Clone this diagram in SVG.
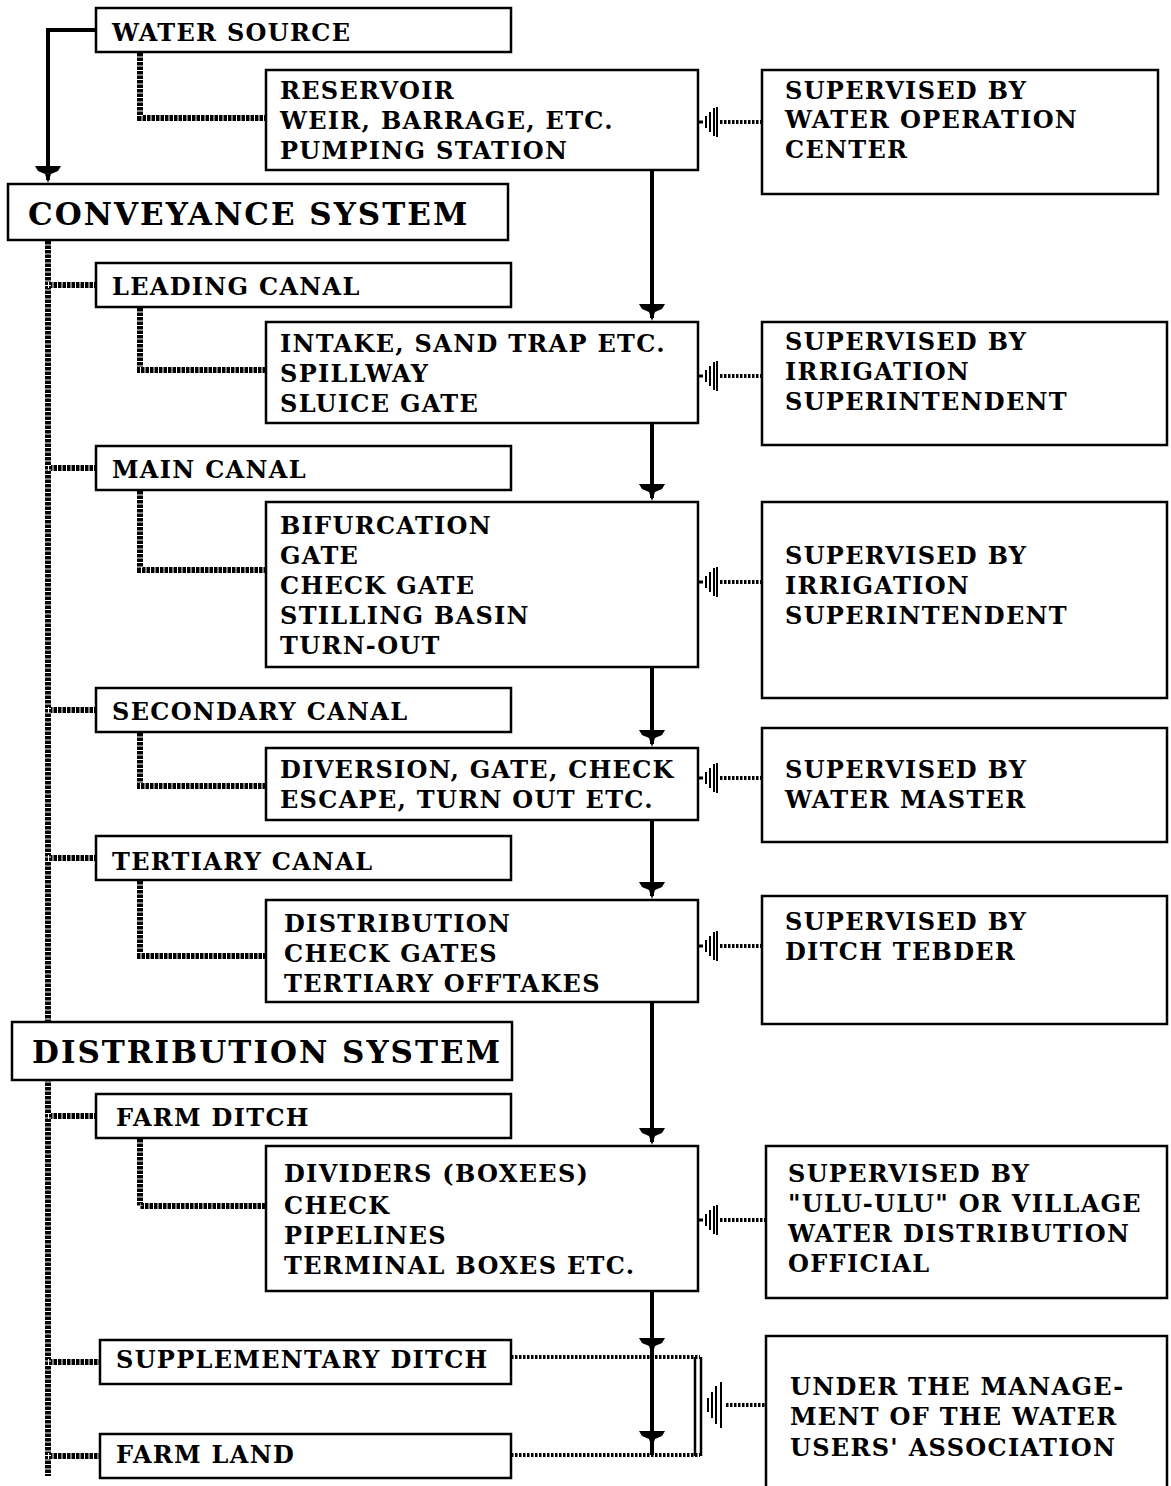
<svg xmlns="http://www.w3.org/2000/svg" width="1171" height="1486" viewBox="0 0 1171 1486">
  <style>
    .box { fill: #fff; stroke: #000; stroke-width: 2.5; }
    .t { font-family: "DejaVu Serif", "Liberation Serif", serif; font-weight: bold; font-size: 24px; fill: #000; letter-spacing: 1.3px; }
    .h { font-family: "DejaVu Serif", "Liberation Serif", serif; font-weight: bold; font-size: 31px; fill: #000; letter-spacing: 2px; }
    .solid { fill: none; stroke: #000; stroke-width: 4; }
    /* rope-like line: black core broken by thin white ticks */
    .rope { fill: none; stroke: #000; stroke-width: 6; }
    .rope-tick { fill: none; stroke: #fff; stroke-width: 6; stroke-dasharray: 1 3.5; }
    .dots { fill: none; stroke: #000; stroke-width: 4; stroke-dasharray: 2.5 1.5; }
  </style>
  <defs>
    <!-- flow arrowhead: triangle pointing down with a cross bar, tip at (0,0) -->
    <symbol id="arrow" overflow="visible">
      <path d="M-13,-17 L13,-17 L10,-12 L3,-9 L0,0 L-3,-9 L-10,-12 Z" fill="#000"/>
    </symbol>
    <!-- supervision link: stepped bars starting at (0,0) -->
    <symbol id="link" overflow="visible">
      <path d="M0,0 H5" stroke="#000" stroke-width="3"/>
      <path d="M8,-6 V6 M12,-10 V10 M16,-14 V14 M19,-15 V15" stroke="#000" stroke-width="2"/>
    </symbol>
    <!-- rope paths, each drawn twice (core and ticks) -->
    <path id="r0" d="M48,240 V1476"/>
    <path id="r1" d="M48,285 H96"/>
    <path id="r2" d="M48,468 H96"/>
    <path id="r3" d="M48,710 H96"/>
    <path id="r4" d="M48,858 H96"/>
    <path id="r5" d="M48,1116 H96"/>
    <path id="r6" d="M48,1362 H100"/>
    <path id="r7" d="M48,1456 H100"/>
    <path id="s1" d="M140,52 V118 H266"/>
    <path id="s2" d="M140,307 V370 H266"/>
    <path id="s3" d="M140,490 V570 H266"/>
    <path id="s4" d="M140,732 V786 H266"/>
    <path id="s5" d="M140,880 V956 H266"/>
    <path id="s6" d="M140,1138 V1206 H266"/>
  </defs>

  <g id="connectors">
    <!-- source down to conveyance system -->
    <path class="solid" d="M96,30 H48 V180"/>
    <use href="#arrow" x="48" y="183"/>

    <!-- main flow line -->
    <path class="solid" d="M652,170 V318"/>
    <use href="#arrow" x="652" y="321"/>
    <path class="solid" d="M652,423 V498"/>
    <use href="#arrow" x="652" y="501"/>
    <path class="solid" d="M652,667 V744"/>
    <use href="#arrow" x="652" y="747"/>
    <path class="solid" d="M652,820 V896"/>
    <use href="#arrow" x="652" y="899"/>
    <path class="solid" d="M652,1002 V1142"/>
    <use href="#arrow" x="652" y="1145"/>
    <path class="solid" d="M652,1291 V1455"/>
    <use href="#arrow" x="652" y="1355"/>
    <use href="#arrow" x="652" y="1448"/>

    <!-- left trunk, branches and canal-to-structure links -->
    <g class="rope">
      <use href="#r0"/><use href="#r1"/><use href="#r2"/><use href="#r3"/>
      <use href="#r4"/><use href="#r5"/><use href="#r6"/><use href="#r7"/>
      <use href="#s1"/><use href="#s2"/><use href="#s3"/>
      <use href="#s4"/><use href="#s5"/><use href="#s6"/>
    </g>
    <g class="rope-tick">
      <use href="#r0"/><use href="#r1"/><use href="#r2"/><use href="#r3"/>
      <use href="#r4"/><use href="#r5"/><use href="#r6"/><use href="#r7"/>
      <use href="#s1"/><use href="#s2"/><use href="#s3"/>
      <use href="#s4"/><use href="#s5"/><use href="#s6"/>
    </g>

    <!-- structures to supervision -->
    <use href="#link" x="698" y="122"/>
    <path class="dots" d="M720,122 H762"/>
    <use href="#link" x="698" y="376"/>
    <path class="dots" d="M720,376 H762"/>
    <use href="#link" x="698" y="582"/>
    <path class="dots" d="M720,582 H762"/>
    <use href="#link" x="698" y="778"/>
    <path class="dots" d="M720,778 H762"/>
    <use href="#link" x="698" y="946"/>
    <path class="dots" d="M720,946 H762"/>
    <use href="#link" x="698" y="1220"/>
    <path class="dots" d="M720,1220 H766"/>

    <!-- farm level bracket -->
    <path class="dots" d="M511,1357 H700"/>
    <path class="dots" d="M511,1455 H700"/>
    <path d="M695,1357 V1456 M701,1357 V1456" stroke="#000" stroke-width="2.5" fill="none"/>
    <path d="M708,1398 V1412 M712,1392 V1418 M716,1386 V1424 M721,1382 V1428" stroke="#000" stroke-width="2" fill="none"/>
    <path class="dots" d="M726,1405 H766"/>
  </g>

  <g id="water-source">
    <rect class="box" x="96" y="8" width="415" height="44"/>
    <text class="t" x="112" y="41">WATER SOURCE</text>
  </g>
  <g id="headworks">
    <rect class="box" x="266" y="70" width="432" height="100"/>
    <text class="t" x="280" y="99">RESERVOIR</text>
    <text class="t" x="280" y="129">WEIR, BARRAGE, ETC.</text>
    <text class="t" x="280" y="159">PUMPING STATION</text>
  </g>
  <g id="sup-operation">
    <rect class="box" x="762" y="70" width="396" height="124"/>
    <text class="t" x="785" y="99">SUPERVISED BY</text>
    <text class="t" x="785" y="128">WATER OPERATION</text>
    <text class="t" x="785" y="158">CENTER</text>
  </g>
  <g id="conveyance-system">
    <rect class="box" x="8" y="184" width="500" height="56"/>
    <text class="h" x="28" y="225">CONVEYANCE SYSTEM</text>
  </g>
  <g id="leading-canal">
    <rect class="box" x="96" y="263" width="415" height="44"/>
    <text class="t" x="112" y="295">LEADING CANAL</text>
  </g>
  <g id="intake">
    <rect class="box" x="266" y="322" width="432" height="101"/>
    <text class="t" x="280" y="352">INTAKE, SAND TRAP ETC.</text>
    <text class="t" x="280" y="382">SPILLWAY</text>
    <text class="t" x="280" y="412">SLUICE GATE</text>
  </g>
  <g id="sup-irrigation-1">
    <rect class="box" x="762" y="322" width="405" height="123"/>
    <text class="t" x="785" y="350">SUPERVISED BY</text>
    <text class="t" x="785" y="380">IRRIGATION</text>
    <text class="t" x="785" y="410">SUPERINTENDENT</text>
  </g>
  <g id="main-canal">
    <rect class="box" x="96" y="446" width="415" height="44"/>
    <text class="t" x="112" y="478">MAIN CANAL</text>
  </g>
  <g id="main-structures">
    <rect class="box" x="266" y="502" width="432" height="165"/>
    <text class="t" x="280" y="534">BIFURCATION</text>
    <text class="t" x="280" y="564">GATE</text>
    <text class="t" x="280" y="594">CHECK GATE</text>
    <text class="t" x="280" y="624">STILLING BASIN</text>
    <text class="t" x="280" y="654">TURN-OUT</text>
  </g>
  <g id="sup-irrigation-2">
    <rect class="box" x="762" y="502" width="405" height="196"/>
    <text class="t" x="785" y="564">SUPERVISED BY</text>
    <text class="t" x="785" y="594">IRRIGATION</text>
    <text class="t" x="785" y="624">SUPERINTENDENT</text>
  </g>
  <g id="secondary-canal">
    <rect class="box" x="96" y="688" width="415" height="44"/>
    <text class="t" x="112" y="720">SECONDARY CANAL</text>
  </g>
  <g id="diversion">
    <rect class="box" x="266" y="748" width="432" height="72"/>
    <text class="t" x="280" y="778">DIVERSION, GATE, CHECK</text>
    <text class="t" x="280" y="808">ESCAPE, TURN OUT ETC.</text>
  </g>
  <g id="sup-water-master">
    <rect class="box" x="762" y="728" width="405" height="114"/>
    <text class="t" x="785" y="778">SUPERVISED BY</text>
    <text class="t" x="785" y="808">WATER MASTER</text>
  </g>
  <g id="tertiary-canal">
    <rect class="box" x="96" y="836" width="415" height="44"/>
    <text class="t" x="112" y="870">TERTIARY CANAL</text>
  </g>
  <g id="tertiary-structures">
    <rect class="box" x="266" y="900" width="432" height="102"/>
    <text class="t" x="284" y="932">DISTRIBUTION</text>
    <text class="t" x="284" y="962">CHECK GATES</text>
    <text class="t" x="284" y="992">TERTIARY OFFTAKES</text>
  </g>
  <g id="sup-ditch-tender">
    <rect class="box" x="762" y="896" width="405" height="128"/>
    <text class="t" x="785" y="930">SUPERVISED BY</text>
    <text class="t" x="785" y="960">DITCH TEBDER</text>
  </g>
  <g id="distribution-system">
    <rect class="box" x="12" y="1022" width="500" height="58"/>
    <text class="h" x="32" y="1063">DISTRIBUTION SYSTEM</text>
  </g>
  <g id="farm-ditch">
    <rect class="box" x="96" y="1094" width="415" height="44"/>
    <text class="t" x="116" y="1126">FARM DITCH</text>
  </g>
  <g id="farm-structures">
    <rect class="box" x="266" y="1146" width="432" height="145"/>
    <text class="t" x="284" y="1182">DIVIDERS (BOXEES)</text>
    <text class="t" x="284" y="1214">CHECK</text>
    <text class="t" x="284" y="1244">PIPELINES</text>
    <text class="t" x="284" y="1274">TERMINAL BOXES ETC.</text>
  </g>
  <g id="sup-village">
    <rect class="box" x="766" y="1146" width="401" height="152"/>
    <text class="t" x="788" y="1182">SUPERVISED BY</text>
    <text class="t" x="788" y="1212">"ULU-ULU" OR VILLAGE</text>
    <text class="t" x="788" y="1242">WATER DISTRIBUTION</text>
    <text class="t" x="788" y="1272">OFFICIAL</text>
  </g>
  <g id="supplementary-ditch">
    <rect class="box" x="100" y="1340" width="411" height="44"/>
    <text class="t" x="116" y="1368">SUPPLEMENTARY DITCH</text>
  </g>
  <g id="farm-land">
    <rect class="box" x="100" y="1434" width="411" height="44"/>
    <text class="t" x="116" y="1463">FARM LAND</text>
  </g>
  <g id="users-association">
    <rect class="box" x="766" y="1336" width="401" height="160"/>
    <text class="t" x="790" y="1395">UNDER THE MANAGE-</text>
    <text class="t" x="790" y="1425">MENT OF THE WATER</text>
    <text class="t" x="790" y="1456">USERS' ASSOCIATION</text>
  </g>
</svg>
